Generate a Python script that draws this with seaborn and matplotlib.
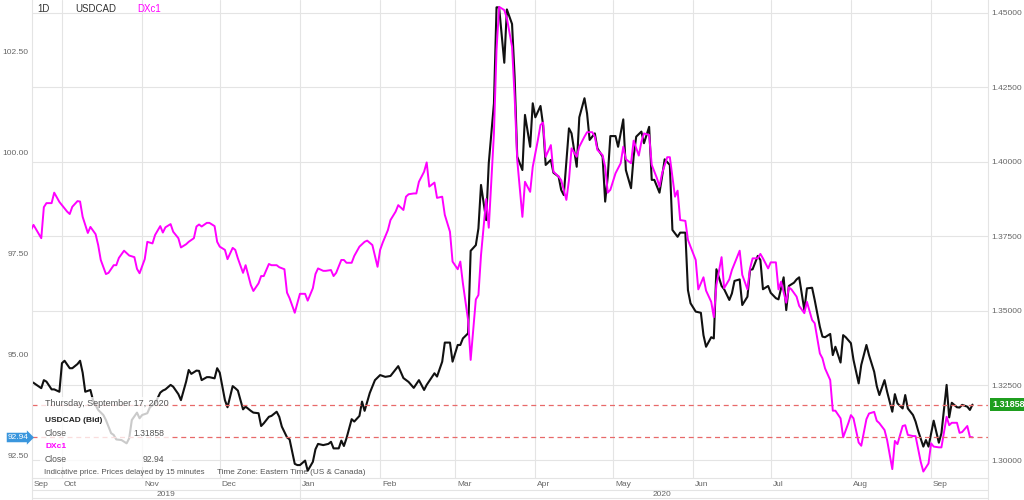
import matplotlib
matplotlib.use("Agg")
import matplotlib.pyplot as plt
import matplotlib.dates as mdates
from matplotlib.lines import Line2D
from matplotlib.patches import Rectangle
import pandas as pd
import seaborn as sns

sns.set_style("white")
plt.rcParams["font.family"] = ["Liberation Sans", "DejaVu Sans"]

# USDCAD daily close (right axis)
cad_dates = [
    "2019-09-19", "2019-09-20", "2019-09-23", "2019-09-24", "2019-09-25", "2019-09-27", "2019-09-28", "2019-09-30",
    "2019-10-01", "2019-10-02", "2019-10-04", "2019-10-05", "2019-10-07", "2019-10-08", "2019-10-09", "2019-10-10",
    "2019-10-12", "2019-10-13", "2019-10-15", "2019-10-17", "2019-10-18", "2019-10-20", "2019-10-21", "2019-10-22",
    "2019-10-24", "2019-10-26", "2019-10-27", "2019-10-28", "2019-10-30", "2019-10-31",
    "2019-11-01", "2019-11-03", "2019-11-04", "2019-11-06", "2019-11-08", "2019-11-09", "2019-11-10", "2019-11-12",
    "2019-11-13", "2019-11-15", "2019-11-16", "2019-11-18", "2019-11-19", "2019-11-20", "2019-11-22", "2019-11-23",
    "2019-11-24", "2019-11-26", "2019-11-27", "2019-11-29", "2019-11-30",
    "2019-12-01", "2019-12-03", "2019-12-04", "2019-12-06", "2019-12-07", "2019-12-08", "2019-12-10", "2019-12-11",
    "2019-12-13", "2019-12-14", "2019-12-16", "2019-12-17", "2019-12-18", "2019-12-20", "2019-12-21", "2019-12-23",
    "2019-12-24", "2019-12-25", "2019-12-27", "2019-12-28", "2019-12-30", "2019-12-31",
    "2020-01-01", "2020-01-03", "2020-01-04", "2020-01-06", "2020-01-07", "2020-01-08", "2020-01-10", "2020-01-12",
    "2020-01-13", "2020-01-14", "2020-01-16", "2020-01-17", "2020-01-18", "2020-01-19", "2020-01-21", "2020-01-22",
    "2020-01-24", "2020-01-25", "2020-01-26", "2020-01-28", "2020-01-30",
    "2020-02-01", "2020-02-03", "2020-02-05", "2020-02-07", "2020-02-08", "2020-02-10", "2020-02-12", "2020-02-14",
    "2020-02-16", "2020-02-18", "2020-02-19", "2020-02-22", "2020-02-23", "2020-02-25", "2020-02-26", "2020-02-28",
    "2020-02-29",
    "2020-03-02", "2020-03-03", "2020-03-04", "2020-03-06", "2020-03-07", "2020-03-09", "2020-03-10", "2020-03-11",
    "2020-03-13", "2020-03-14", "2020-03-16", "2020-03-17", "2020-03-18", "2020-03-20", "2020-03-21", "2020-03-23",
    "2020-03-24", "2020-03-25", "2020-03-27", "2020-03-28", "2020-03-30", "2020-03-31",
    "2020-04-01", "2020-04-03", "2020-04-04", "2020-04-05", "2020-04-07", "2020-04-08", "2020-04-10", "2020-04-11",
    "2020-04-12", "2020-04-14", "2020-04-15", "2020-04-17", "2020-04-18", "2020-04-20", "2020-04-21", "2020-04-22",
    "2020-04-24", "2020-04-25", "2020-04-27", "2020-04-28", "2020-04-29", "2020-04-30",
    "2020-05-02", "2020-05-03", "2020-05-05", "2020-05-06", "2020-05-08", "2020-05-09", "2020-05-10", "2020-05-12",
    "2020-05-13", "2020-05-15", "2020-05-16", "2020-05-17", "2020-05-19", "2020-05-20", "2020-05-21", "2020-05-23",
    "2020-05-24", "2020-05-26", "2020-05-27", "2020-05-29", "2020-05-30", "2020-05-31",
    "2020-06-02", "2020-06-04", "2020-06-05", "2020-06-06", "2020-06-08", "2020-06-09", "2020-06-10", "2020-06-12",
    "2020-06-13", "2020-06-15", "2020-06-16", "2020-06-17", "2020-06-19", "2020-06-20", "2020-06-22", "2020-06-23",
    "2020-06-24", "2020-06-26", "2020-06-27", "2020-06-28", "2020-06-30",
    "2020-07-01", "2020-07-03", "2020-07-04", "2020-07-06", "2020-07-07", "2020-07-08", "2020-07-10", "2020-07-11",
    "2020-07-12", "2020-07-14", "2020-07-15", "2020-07-17", "2020-07-18", "2020-07-20", "2020-07-21", "2020-07-22",
    "2020-07-24", "2020-07-25", "2020-07-26", "2020-07-28", "2020-07-29", "2020-07-30",
    "2020-08-01", "2020-08-02", "2020-08-04", "2020-08-05", "2020-08-07", "2020-08-08", "2020-08-10", "2020-08-11",
    "2020-08-12", "2020-08-14", "2020-08-15", "2020-08-17", "2020-08-18", "2020-08-19", "2020-08-21", "2020-08-22",
    "2020-08-23", "2020-08-25", "2020-08-26", "2020-08-27", "2020-08-29", "2020-08-30", "2020-08-31",
    "2020-09-02", "2020-09-04", "2020-09-05", "2020-09-07", "2020-09-08", "2020-09-09", "2020-09-11", "2020-09-12",
    "2020-09-13", "2020-09-15", "2020-09-16", "2020-09-17",
]
cad_close = [
    1.3263, 1.3259, 1.3241, 1.3268, 1.3263, 1.3237, 1.3237, 1.3229,
    1.3325, 1.3333, 1.3308, 1.3308, 1.3322, 1.3333, 1.3293, 1.3229,
    1.3235, 1.3201, 1.3168, 1.3151, 1.3134, 1.3090, 1.3084, 1.3069,
    1.3067, 1.3056, 1.3073, 1.3134, 1.3159, 1.3140,
    1.3151, 1.3157, 1.3177, 1.3190, 1.3226, 1.3233, 1.3237, 1.3252,
    1.3246, 1.3221, 1.3201, 1.3263, 1.3302, 1.3289, 1.3300, 1.3299,
    1.3268, 1.3278, 1.3278, 1.3274, 1.3308,
    1.3293, 1.3201, 1.3177, 1.3248, 1.3241, 1.3233, 1.3170, 1.3179,
    1.3165, 1.3159, 1.3157, 1.3114, 1.3123, 1.3145, 1.3148, 1.3162,
    1.3145, 1.3112, 1.3076, 1.3069, 1.2987, 1.2983,
    1.2983, 1.2998, 1.2964, 1.2994, 1.3036, 1.3054, 1.3050, 1.3054,
    1.3061, 1.3039, 1.3039, 1.3065, 1.3047, 1.3073, 1.3137, 1.3129,
    1.3148, 1.3196, 1.3165, 1.3225, 1.3268,
    1.3285, 1.3279, 1.3282, 1.3304, 1.3315, 1.3275, 1.3262, 1.3242,
    1.3268, 1.3235, 1.3252, 1.3291, 1.3280, 1.3330, 1.3394, 1.3394,
    1.3330,
    1.3386, 1.3386, 1.3408, 1.3425, 1.3702, 1.3721, 1.3777, 1.3923,
    1.3805, 1.3996, 1.4197, 1.4519, 1.4519, 1.4333, 1.4512, 1.4463,
    1.4286, 1.4018, 1.3973, 1.4158, 1.4051, 1.4197,
    1.4150, 1.4188, 1.4124, 1.3990, 1.4007, 1.3964, 1.3951, 1.3906,
    1.3889, 1.4113, 1.4096, 1.3984, 1.4150, 1.4214, 1.4163, 1.4074,
    1.4096, 1.4046, 1.4018, 1.3867, 1.3951, 1.4087,
    1.4087, 1.4051, 1.4143, 1.3973, 1.3912, 1.4018, 1.4085, 1.4102,
    1.4063, 1.4118, 1.3940, 1.3940, 1.3897, 1.3951, 1.4009, 1.3990,
    1.3772, 1.3749, 1.3763, 1.3763, 1.3570, 1.3526,
    1.3498, 1.3494, 1.3419, 1.3380, 1.3412, 1.3408, 1.3640, 1.3584,
    1.3573, 1.3537, 1.3559, 1.3601, 1.3606, 1.3520, 1.3548, 1.3638,
    1.3640, 1.3685, 1.3671, 1.3573, 1.3584,
    1.3561, 1.3543, 1.3539, 1.3613, 1.3503, 1.3584, 1.3595, 1.3606,
    1.3613, 1.3503, 1.3576, 1.3578, 1.3537, 1.3447, 1.3414, 1.3412,
    1.3423, 1.3352, 1.3380, 1.3327, 1.3419, 1.3412,
    1.3392, 1.3336, 1.3257, 1.3319, 1.3386, 1.3352, 1.3296, 1.3248,
    1.3218, 1.3268, 1.3229, 1.3162, 1.3221, 1.3190, 1.3173, 1.3218,
    1.3173, 1.3151, 1.3129, 1.3098, 1.3045, 1.3067, 1.3045,
    1.3132, 1.3058, 1.3090, 1.3252, 1.3143, 1.3192, 1.3177, 1.3176,
    1.3185, 1.3179, 1.3168, 1.31858,
]

# DXc1 daily close (left axis)
dx_dates = [
    "2019-09-19", "2019-09-20", "2019-09-23", "2019-09-24", "2019-09-25", "2019-09-27", "2019-09-28", "2019-09-30",
    "2019-10-01", "2019-10-03", "2019-10-04", "2019-10-05", "2019-10-07", "2019-10-08", "2019-10-09", "2019-10-11",
    "2019-10-12", "2019-10-14", "2019-10-15", "2019-10-16", "2019-10-18", "2019-10-19", "2019-10-21", "2019-10-22",
    "2019-10-23", "2019-10-25", "2019-10-26", "2019-10-27", "2019-10-29", "2019-10-30", "2019-10-31",
    "2019-11-02", "2019-11-03", "2019-11-05", "2019-11-06", "2019-11-08", "2019-11-09", "2019-11-10", "2019-11-12",
    "2019-11-13", "2019-11-15", "2019-11-16", "2019-11-18", "2019-11-19", "2019-11-21", "2019-11-22", "2019-11-23",
    "2019-11-24", "2019-11-26", "2019-11-27", "2019-11-29", "2019-11-30",
    "2019-12-01", "2019-12-03", "2019-12-04", "2019-12-06", "2019-12-07", "2019-12-08", "2019-12-10", "2019-12-11",
    "2019-12-13", "2019-12-14", "2019-12-16", "2019-12-17", "2019-12-18", "2019-12-20", "2019-12-21", "2019-12-23",
    "2019-12-24", "2019-12-26", "2019-12-27", "2019-12-28", "2019-12-30", "2019-12-31",
    "2020-01-01", "2020-01-03", "2020-01-04", "2020-01-06", "2020-01-07", "2020-01-08", "2020-01-10", "2020-01-11",
    "2020-01-13", "2020-01-14", "2020-01-15", "2020-01-17", "2020-01-18", "2020-01-19", "2020-01-21", "2020-01-22",
    "2020-01-24", "2020-01-26", "2020-01-27", "2020-01-29", "2020-01-31",
    "2020-02-01", "2020-02-02", "2020-02-04", "2020-02-05", "2020-02-07", "2020-02-08", "2020-02-10", "2020-02-11",
    "2020-02-12", "2020-02-14", "2020-02-15", "2020-02-16", "2020-02-18", "2020-02-19", "2020-02-20", "2020-02-22",
    "2020-02-23", "2020-02-25", "2020-02-26", "2020-02-28", "2020-02-29",
    "2020-03-02", "2020-03-03", "2020-03-04", "2020-03-06", "2020-03-07", "2020-03-09", "2020-03-10", "2020-03-11",
    "2020-03-13", "2020-03-14", "2020-03-16", "2020-03-17", "2020-03-18", "2020-03-20", "2020-03-21", "2020-03-23",
    "2020-03-24", "2020-03-25", "2020-03-27", "2020-03-28", "2020-03-30", "2020-03-31",
    "2020-04-02", "2020-04-03", "2020-04-04", "2020-04-05", "2020-04-07", "2020-04-08", "2020-04-10", "2020-04-11",
    "2020-04-13", "2020-04-14", "2020-04-15", "2020-04-17", "2020-04-18", "2020-04-20", "2020-04-21", "2020-04-23",
    "2020-04-24", "2020-04-25", "2020-04-27", "2020-04-28", "2020-04-29", "2020-04-30",
    "2020-05-02", "2020-05-04", "2020-05-05", "2020-05-06", "2020-05-08", "2020-05-09", "2020-05-11", "2020-05-12",
    "2020-05-13", "2020-05-15", "2020-05-16", "2020-05-18", "2020-05-19", "2020-05-20", "2020-05-22", "2020-05-23",
    "2020-05-25", "2020-05-26", "2020-05-27", "2020-05-29", "2020-05-30", "2020-05-31",
    "2020-06-02", "2020-06-03", "2020-06-05", "2020-06-06", "2020-06-08", "2020-06-09", "2020-06-10", "2020-06-12",
    "2020-06-13", "2020-06-15", "2020-06-16", "2020-06-19", "2020-06-20", "2020-06-22", "2020-06-23", "2020-06-24",
    "2020-06-26", "2020-06-27", "2020-06-28", "2020-06-30",
    "2020-07-01", "2020-07-03", "2020-07-04", "2020-07-05", "2020-07-07", "2020-07-08", "2020-07-09", "2020-07-11",
    "2020-07-12", "2020-07-14", "2020-07-15", "2020-07-17", "2020-07-18", "2020-07-20", "2020-07-21", "2020-07-22",
    "2020-07-24", "2020-07-25", "2020-07-26", "2020-07-28", "2020-07-29", "2020-07-31",
    "2020-08-01", "2020-08-02", "2020-08-04", "2020-08-05", "2020-08-07", "2020-08-08", "2020-08-10", "2020-08-11",
    "2020-08-12", "2020-08-14", "2020-08-15", "2020-08-17", "2020-08-18", "2020-08-19", "2020-08-21", "2020-08-22",
    "2020-08-23", "2020-08-25", "2020-08-26", "2020-08-28", "2020-08-29", "2020-08-31",
    "2020-09-01", "2020-09-02", "2020-09-04", "2020-09-05", "2020-09-07", "2020-09-08", "2020-09-09", "2020-09-11",
    "2020-09-12", "2020-09-13", "2020-09-15", "2020-09-16", "2020-09-17",
]
dx_close = [
    98.08, 98.21, 97.88, 98.65, 98.75, 98.75, 99.01, 98.78,
    98.70, 98.54, 98.48, 98.66, 98.80, 98.79, 98.41, 98.01,
    98.16, 97.98, 97.71, 97.34, 96.99, 97.02, 97.21, 97.21,
    97.39, 97.57, 97.51, 97.45, 97.41, 97.12, 97.01,
    97.36, 97.79, 97.75, 97.96, 98.18, 98.02, 98.15, 98.23,
    98.04, 97.88, 97.65, 97.73, 97.79, 97.88, 98.17, 98.22,
    98.17, 98.26, 98.26, 98.18, 97.79,
    97.67, 97.59, 97.36, 97.64, 97.59, 97.38, 97.02, 97.21,
    96.72, 96.57, 96.76, 96.94, 96.94, 97.24, 97.21, 97.21,
    97.16, 97.11, 96.53, 96.39, 96.03, 96.26,
    96.50, 96.50, 96.33, 96.64, 96.99, 97.13, 97.07, 97.07,
    97.09, 96.94, 97.02, 97.34, 97.34, 97.27, 97.27, 97.44,
    97.67, 97.79, 97.82, 97.71, 97.17,
    97.59, 97.77, 98.08, 98.33, 98.54, 98.70, 98.58, 98.91,
    98.97, 98.99, 98.99, 99.28, 99.53, 99.76, 99.16, 99.26,
    98.88, 98.91, 98.46, 98.04, 97.30,
    97.11, 97.30, 96.76, 95.85, 94.86, 96.36, 96.47, 97.46,
    98.85, 98.14, 100.48, 102.55, 103.62, 103.54, 103.34, 102.63,
    101.39, 99.82, 98.41, 99.28, 99.03, 99.65,
    100.32, 100.69, 100.75, 99.90, 100.19, 99.53, 99.41, 99.32,
    98.83, 99.32, 100.11, 99.90, 100.15, 100.40, 100.51, 100.51,
    100.40, 100.07, 99.94, 99.65, 99.01, 99.08,
    99.49, 99.74, 100.15, 99.84, 99.74, 100.30, 99.93, 100.27,
    100.48, 100.44, 99.70, 99.37, 99.16, 99.49, 99.89, 99.89,
    98.91, 99.06, 98.33, 98.31, 97.84, 97.67,
    97.34, 96.61, 96.91, 96.58, 96.30, 95.92, 96.72, 97.41,
    96.64, 96.86, 97.09, 97.57, 96.97, 96.61, 97.13, 97.38,
    97.38, 97.49, 97.38, 97.13,
    97.28, 97.28, 96.61, 96.80, 96.28, 96.66, 96.61, 96.43,
    96.20, 96.02, 96.30, 95.85, 95.77, 95.02, 94.90, 94.65,
    94.36, 93.60, 93.60, 93.41, 92.94, 93.29,
    93.49, 93.41, 92.81, 92.73, 93.39, 93.53, 93.57, 93.35,
    93.29, 93.12, 92.87, 92.15, 92.85, 92.77, 93.22, 93.24,
    93.00, 92.97, 92.97, 92.33, 92.09, 92.29,
    92.79, 92.71, 92.69, 92.69, 93.45, 93.24, 93.30, 93.30,
    93.05, 93.07, 93.22, 92.95, 92.94,
]

cad_ticks = [1.300, 1.325, 1.350, 1.375, 1.400, 1.425, 1.450]
dx_ticks = [92.5, 95.0, 97.5, 100.0, 102.5]
month_starts = pd.date_range("2019-10-01", "2020-09-01", freq="MS")
month_names = ["Sep"] + [d.strftime("%b") for d in month_starts]

GRID = "#e4e4e4"
TXT = "#666666"
BLACK = "#111111"
MAGENTA = "#ff00ff"
DASH = "#e86a6a"

cad = pd.DataFrame({"date": pd.to_datetime(cad_dates), "close": cad_close})
dx = pd.DataFrame({"date": pd.to_datetime(dx_dates), "close": dx_close})

W, H = 1024, 500
fig = plt.figure(figsize=(W / 100, H / 100), dpi=100)
ax = fig.add_axes([32 / W, 22 / H, 956 / W, 478 / H])
ax2 = ax.twinx()


def px(x, y):
    return x / W, 1 - y / H


sns.lineplot(data=cad, x="date", y="close", ax=ax, color=BLACK, linewidth=1.5, estimator=None)
sns.lineplot(data=dx, x="date", y="close", ax=ax2, color=MAGENTA, linewidth=1.4, estimator=None)

ax.set_xlim(pd.Timestamp("2019-09-19 10:00"), pd.Timestamp("2020-09-23"))
ax.set_ylim(1.29396, 1.45436)
ax2.set_ylim(91.93, 103.79)

for a in (ax, ax2):
    a.set_xlabel("")
    a.set_ylabel("")

# right axis (USDCAD) with the grid
ax.yaxis.tick_right()
ax.set_yticks(cad_ticks)
ax.set_yticklabels([f"{t:.5f}" for t in cad_ticks])
ax.set_xticks(month_starts)
ax.set_xticklabels([])
ax.grid(True, color=GRID, linewidth=0.8)
ax.tick_params(axis="y", length=0, pad=2.5, labelsize=6, labelcolor=TXT)
ax.tick_params(axis="x", length=8.6, width=0.8, color=GRID, direction="out")
for sp in ax.spines.values():
    sp.set_color(GRID)
    sp.set_linewidth(0.8)
ax.spines["top"].set_visible(False)

# left axis (DXc1)
ax2.yaxis.tick_left()
ax2.set_yticks(dx_ticks)
ax2.set_yticklabels([f"{t:.2f}" for t in dx_ticks])
ax2.tick_params(axis="y", length=0, pad=2.5, labelsize=6, labelcolor=TXT)
ax2.grid(False)
for sp in ax2.spines.values():
    sp.set_visible(False)

# last-value reference lines
ax.axhline(cad_close[-1], color=DASH, linestyle=(0, (4, 3)), linewidth=0.9)
ax2.axhline(dx_close[-1], color=DASH, linestyle=(0, (4, 3)), linewidth=0.9)


def fig_x(d):
    xd = ax.transData.transform((mdates.date2num(pd.Timestamp(d)), 0))[0]
    return xd / fig.bbox.width


# month and year rows
label_x = [32 / W] + [fig_x(d) for d in month_starts]
for xf, name in zip(label_x, month_names):
    fig.text(xf + 2 / W, px(0, 484)[1], name, fontsize=6, color=TXT, va="center", ha="left")

for yy in (490, 498):
    fig.add_artist(Line2D([32 / W, 988 / W], [px(0, yy)[1]] * 2, color=GRID, lw=0.8,
                          transform=fig.transFigure))
jan_x = fig_x("2020-01-01")
for xf in (32 / W, jan_x, 988 / W):
    fig.add_artist(Line2D([xf, xf], [px(0, 478)[1], px(0, 500)[1]], color=GRID, lw=0.8,
                          transform=fig.transFigure))
fig.text((32 / W + jan_x) / 2, px(0, 494)[1], "2019", fontsize=6, color=TXT, ha="center", va="center")
fig.text((jan_x + 1.0) / 2, px(0, 494)[1], "2020", fontsize=6, color=TXT, ha="center", va="center")

# header
fig.text(*px(37, 9), "1D", fontsize=7, color="#333333", va="center")
fig.text(*px(75, 9), "USDCAD", fontsize=7, color="#333333", va="center")
fig.text(*px(137, 9), "DXc1", fontsize=7, color=MAGENTA, va="center")

# hover tooltip
fig.add_artist(Rectangle(px(40, 467), 132 / W, 70 / H, transform=fig.transFigure,
                         facecolor="white", edgecolor="none", alpha=0.78))
fig.text(*px(45, 404), "Thursday, September 17, 2020", fontsize=6.5, color="#555555", va="center")
fig.text(*px(45, 420), "USDCAD (Bid)", fontsize=6, color="#222222", va="center", fontweight="bold")
fig.text(*px(45, 433), "Close", fontsize=6.2, color="#555555", va="center")
fig.text(*px(164, 433), f"{cad_close[-1]:.5f}", fontsize=6.2, color="#555555", va="center", ha="right")
fig.text(*px(45, 447), "DXc1", fontsize=6, color=MAGENTA, va="center", fontweight="bold")
fig.text(*px(45, 460), "Close", fontsize=6.2, color="#555555", va="center")
fig.text(*px(164, 460), f"{dx_close[-1]:.2f}", fontsize=6.2, color="#555555", va="center", ha="right")
fig.text(*px(44, 473), "Indicative price. Prices delayed by 15 minutes", fontsize=5.7, color="#555555", va="center")
fig.text(*px(217, 473), "Time Zone: Eastern Time (US & Canada)", fontsize=5.9, color="#555555", va="center")

# price tags on the axes
fig.text(*px(8, 437.5), f"{dx_close[-1]:.2f}", fontsize=6, color="white", va="center", ha="left",
         bbox=dict(boxstyle="rarrow,pad=0.15", facecolor="#3a96dd", edgecolor="none"))
fig.text(*px(992, 404.6), f"{cad_close[-1]:.5f}", fontsize=6.5, color="white", va="center", ha="left",
         fontweight="bold", bbox=dict(boxstyle="square,pad=0.2", facecolor="#1f9e1f", edgecolor="none"))

fig.savefig("out.png", dpi=100)
